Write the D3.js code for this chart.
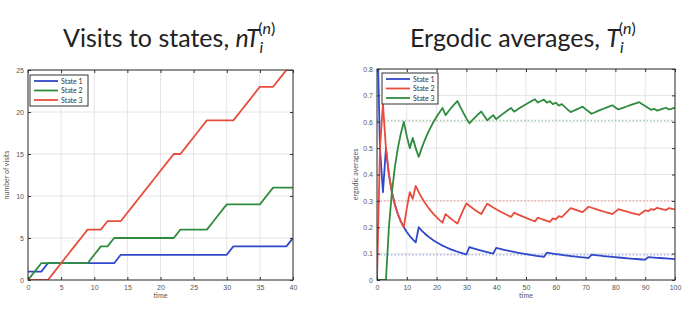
<!DOCTYPE html>
<html>
<head>
<meta charset="utf-8">
<script src="https://cdn.jsdelivr.net/npm/d3@7"></script>
<style>
  body { margin: 0; background: #fff; }
  svg { display: block; font-family: Lato, "Liberation Sans", sans-serif; }
</style>
</head>
<body>
<div id="chart"></div>
<script>
// state names shown in both legends
const states = ["State 1", "State 2", "State 3"];

// state visited at each step t = 0..100
const visits = [
  1, 2, 2, 1, 3, 3, 3, 3, 3, 3,
  2, 2, 3, 2, 1, 3, 3, 3, 3, 3,
  3, 3, 3, 2, 3, 3, 3, 3, 2, 2,
  2, 1, 3, 3, 3, 3, 2, 2, 3, 3,
  1, 3, 3, 3, 3, 3, 2, 3, 3, 3,
  3, 3, 3, 3, 2, 3, 3, 1, 3, 2,
  3, 2, 3, 2, 2, 2, 3, 3, 3, 3,
  2, 2, 1, 3, 3, 3, 3, 3, 3, 3,
  2, 2, 3, 3, 3, 3, 3, 3, 3, 2,
  2, 1, 2, 3, 2, 3, 3, 3, 2, 3,
  3
];

// dotted reference levels on the right plot
const stationary = [0.095, 0.3, 0.605];

const leftXTicks = [0, 5, 10, 15, 20, 25, 30, 35, 40];
const leftYTicks = [0, 5, 10, 15, 20, 25];
const rightXTicks = [0, 10, 20, 30, 40, 50, 60, 70, 80, 90, 100];
const rightYTicks = [0, 0.1, 0.2, 0.3, 0.4, 0.5, 0.6, 0.7, 0.8];

const BLUE = "#3048cc", GREEN = "#2f8c3e", RED = "#e84c3d";
const leftColors = [BLUE, GREEN, RED];
const rightColors = [BLUE, RED, GREEN];

// cumulative visit counts per state
const counts = [1, 2, 3].map(s => {
  let c = 0;
  return visits.map(v => (c += (v === s ? 1 : 0)));
});
const averages = counts.map(arr => arr.map((c, t) => c / (t + 1)));

const svg = d3.select("#chart").append("svg")
  .attr("width", 689).attr("height", 317);

// titles
function title(x, pre, italicN) {
  const t = svg.append("text").attr("x", x).attr("y", 47)
    .attr("font-size", 25).attr("fill", "#222");
  t.append("tspan").text(pre);
  t.append("tspan").attr("font-style", "italic").text(italicN + "T");
  t.append("tspan").attr("font-style", "italic").attr("font-size", 16)
    .attr("dy", 6).text("i");
  const sup = t.append("tspan").attr("font-size", 16).attr("dx", -5).attr("dy", -19);
  sup.append("tspan").text("(");
  sup.append("tspan").attr("font-style", "italic").text("n");
  sup.append("tspan").text(")");
}
title(63, "Visits to states, ", "n");
title(410, "Ergodic averages, ", "");

function panel(cfg) {
  const x = d3.scaleLinear().domain(cfg.xDomain).range([cfg.left, cfg.right]);
  const y = d3.scaleLinear().domain(cfg.yDomain).range([cfg.bottom, cfg.top]);
  const g = svg.append("g");
  const clipId = "clip" + cfg.id;
  svg.append("clipPath").attr("id", clipId).append("rect")
    .attr("x", cfg.left).attr("y", cfg.top)
    .attr("width", cfg.right - cfg.left).attr("height", cfg.bottom - cfg.top);

  // grid
  g.selectAll(".gx").data(cfg.xTicks).enter().append("line")
    .attr("x1", d => x(d)).attr("x2", d => x(d))
    .attr("y1", cfg.top).attr("y2", cfg.bottom)
    .attr("stroke", "#e4e4e4").attr("stroke-width", 1);
  g.selectAll(".gy").data(cfg.yTicks).enter().append("line")
    .attr("y1", d => y(d)).attr("y2", d => y(d))
    .attr("x1", cfg.left).attr("x2", cfg.right)
    .attr("stroke", "#e4e4e4").attr("stroke-width", 1);

  // dotted reference lines
  if (cfg.refs) {
    g.selectAll(".ref").data(cfg.refs).enter().append("line")
      .attr("x1", cfg.left).attr("x2", cfg.right)
      .attr("y1", d => y(d)).attr("y2", d => y(d))
      .attr("stroke", (d, i) => cfg.colors[i]).attr("stroke-opacity", 0.45)
      .attr("stroke-width", 1.2).attr("stroke-dasharray", "1.5,2");
  }

  // series
  const line = d3.line().x((d, i) => x(i)).y(d => y(d));
  const lines = g.append("g").attr("clip-path", `url(#${clipId})`);
  cfg.series.forEach((s, i) => {
    lines.append("path").datum(s)
      .attr("d", line).attr("fill", "none")
      .attr("stroke", cfg.colors[i]).attr("stroke-width", 1.8)
      .attr("stroke-linejoin", "round");
  });

  // axes box with inward ticks on all sides
  const ax = (sel, axis) => sel.call(axis).call(a => a.select(".domain").remove())
    .call(a => a.selectAll("text").attr("fill", "#555").attr("font-size", 7))
    .call(a => a.selectAll("line").attr("stroke", "#333"));
  ax(g.append("g").attr("transform", `translate(0,${cfg.bottom})`),
    d3.axisBottom(x).tickValues(cfg.xTicks).tickSize(-3).tickPadding(5).tickFormat(cfg.xFmt));
  ax(g.append("g").attr("transform", `translate(0,${cfg.top})`),
    d3.axisTop(x).tickValues(cfg.xTicks).tickSize(-3).tickFormat(""));
  ax(g.append("g").attr("transform", `translate(${cfg.left},0)`),
    d3.axisLeft(y).tickValues(cfg.yTicks).tickSize(-3).tickPadding(4).tickFormat(cfg.yFmt));
  ax(g.append("g").attr("transform", `translate(${cfg.right},0)`),
    d3.axisRight(y).tickValues(cfg.yTicks).tickSize(-3).tickFormat(""));
  g.append("rect").attr("x", cfg.left).attr("y", cfg.top)
    .attr("width", cfg.right - cfg.left).attr("height", cfg.bottom - cfg.top)
    .attr("fill", "none").attr("stroke", "#333").attr("stroke-width", 1);

  // axis labels
  g.append("text").attr("x", (cfg.left + cfg.right) / 2).attr("y", cfg.bottom + 18)
    .attr("text-anchor", "middle").attr("font-size", 7).attr("fill", "#555").text("time");
  g.append("text").attr("transform", `translate(${cfg.yLabelX},${(cfg.top + cfg.bottom) / 2}) rotate(-90)`)
    .attr("text-anchor", "middle").attr("font-size", 7).attr("fill", "#555").text(cfg.yLabel);

  // legend
  const lg = g.append("g").attr("transform", `translate(${cfg.legend[0]},${cfg.legend[1]})`);
  lg.append("rect").attr("width", cfg.legendW).attr("height", 31)
    .attr("fill", "#fff").attr("stroke", "#333").attr("stroke-width", 1);
  states.forEach((name, i) => {
    lg.append("line").attr("x1", 4).attr("x2", 28)
      .attr("y1", 6 + i * 9.5).attr("y2", 6 + i * 9.5)
      .attr("stroke", cfg.colors[i]).attr("stroke-width", 1.8);
    lg.append("text").attr("x", 31).attr("y", 8.5 + i * 9.5)
      .attr("font-size", 7).attr("fill", "#333").text(name);
  });
}

panel({
  id: "L", left: 28, right: 293, top: 70, bottom: 280,
  xDomain: [0, 40], yDomain: [0, 25],
  xTicks: leftXTicks, yTicks: leftYTicks,
  xFmt: d3.format("d"), yFmt: d3.format("d"),
  series: counts.map(c => c.slice(0, 41)),
  colors: leftColors,
  yLabel: "number of visits", yLabelX: 9,
  legend: [30, 75], legendW: 58
});

panel({
  id: "R", left: 377, right: 675, top: 69, bottom: 280,
  xDomain: [0, 100], yDomain: [0, 0.8],
  xTicks: rightXTicks, yTicks: rightYTicks,
  xFmt: d3.format("d"), yFmt: d => d === 0 ? "0" : d3.format(".1f")(d),
  series: averages,
  colors: rightColors, refs: stationary,
  yLabel: "ergodic averages", yLabelX: 358,
  legend: [382, 73], legendW: 56
});
</script>
</body>
</html>
